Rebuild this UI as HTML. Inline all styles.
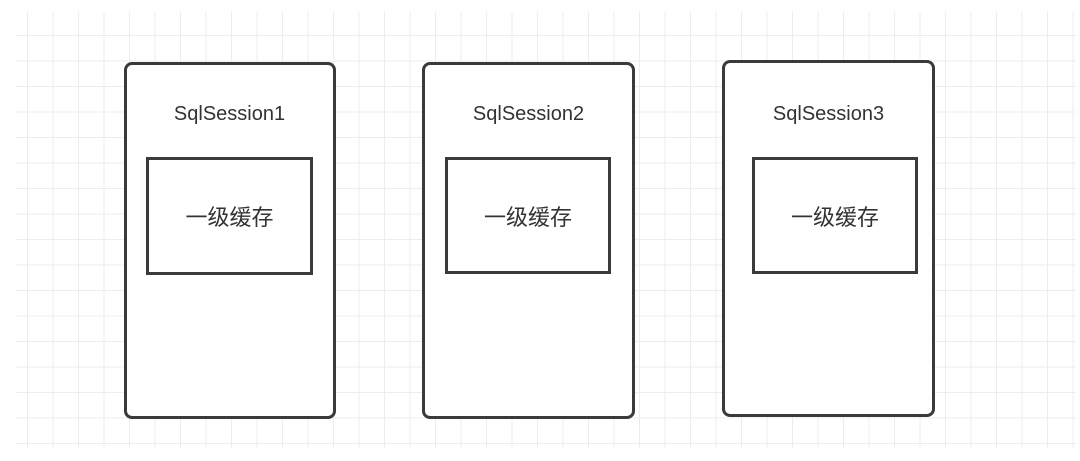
<!DOCTYPE html>
<html><head><meta charset="utf-8"><style>
body{margin:0;width:1080px;height:461px;background:#fff;position:relative;overflow:hidden;font-family:"Liberation Sans","Noto Sans CJK SC",sans-serif;}
.grid{position:absolute;left:16px;top:12px;width:1060px;height:436px;
background-image:linear-gradient(to right,#ececec 1px,transparent 1px),linear-gradient(to bottom,#ececec 1px,transparent 1px);
background-size:25.5px 25.5px;background-position:11px 23px;}
.o{position:absolute;border:3px solid #3a3a3a;border-radius:8px;background:#fff;box-sizing:border-box;}
.i{position:absolute;border:3px solid #3a3a3a;background:#fff;box-sizing:border-box;display:flex;align-items:center;justify-content:center;font-size:22px;color:#333;}
.t{position:absolute;font-size:20px;color:#333;text-align:center;width:211px;}
</style></head><body>
<div class="grid"></div>
<div class="o" style="left:124px;top:62px;width:212px;height:357px"></div>
<div class="o" style="left:422px;top:62px;width:213px;height:357px"></div>
<div class="o" style="left:722px;top:60px;width:213px;height:357px"></div>
<div class="t" style="left:124px;top:103px">SqlSession1</div>
<div class="t" style="left:423px;top:103px">SqlSession2</div>
<div class="t" style="left:723px;top:103px">SqlSession3</div>
<div class="i" style="left:146px;top:157px;width:167px;height:118px">一级缓存</div>
<div class="i" style="left:445px;top:157px;width:166px;height:117px">一级缓存</div>
<div class="i" style="left:752px;top:157px;width:166px;height:117px">一级缓存</div>
</body></html>
